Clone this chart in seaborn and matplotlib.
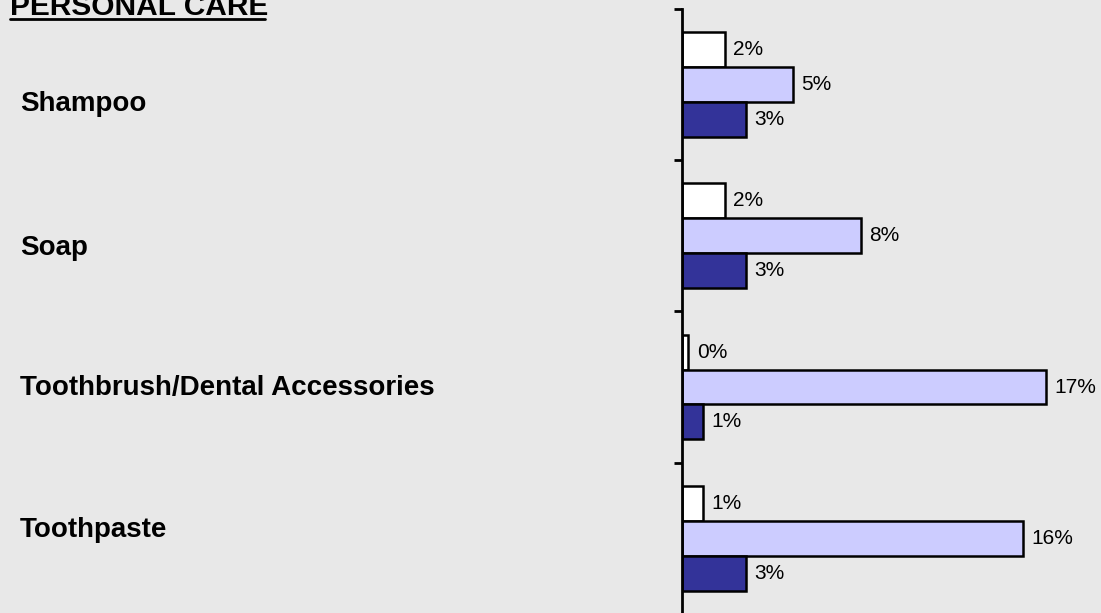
import matplotlib
matplotlib.use("Agg")
import matplotlib.pyplot as plt
import seaborn as sns
import pandas as pd

# ---- data ----
title = "PERSONAL CARE"
categories = ["Shampoo", "Soap", "Toothbrush/Dental Accessories", "Toothpaste"]
series_names = ["Series 1", "Series 2", "Series 3"]
series1 = [2.0, 2.0, 0.3, 1.0]
series2 = [5.2, 8.4, 17.05, 16.0]
series3 = [3.0, 3.0, 1.0, 3.0]
colors = ["#FFFFFF", "#CCCCFF", "#333399"]

rows = []
for name, vals in zip(series_names, [series1, series2, series3]):
    for c, v in zip(categories, vals):
        rows.append({"category": c, "series": name, "value": v})
df = pd.DataFrame(rows)

sns.set_style("white")
plt.rcParams["font.family"] = ["Liberation Sans", "DejaVu Sans"]
plt.rcParams["text.color"] = "black"

W, H = 1101, 613
bg = "#E8E8E8"
fig = plt.figure(figsize=(W / 100, H / 100), dpi=100, facecolor=bg)

ax_left = 682 / W
top_px, bot_px = 8.7, 614.0
ax = fig.add_axes([ax_left, 1 - bot_px / H, 1 - ax_left, (bot_px - top_px) / H])
ax.set_facecolor(bg)

sns.barplot(data=df, y="category", x="value", hue="series", order=categories,
            hue_order=series_names, palette=colors, orient="h", width=0.69,
            edgecolor="black", linewidth=1.8, ax=ax, legend=False, saturation=1)

for cont in ax.containers:
    ax.bar_label(cont, labels=[f"{v:.0f}%" for v in cont.datavalues],
                 padding=6, fontsize=15, color="black")

ax.set_xlim(0, (W - 682) / 21.33)
ax.set_ylim(len(categories) - 0.5, -0.5)

for s in ["top", "right", "bottom"]:
    ax.spines[s].set_visible(False)
ax.spines["left"].set_linewidth(2)
ax.spines["left"].set_color("black")
ax.set_xticks([])
ax.set_yticks([i - 0.5 for i in range(len(categories) + 1)])
ax.set_yticklabels([])
ax.tick_params(axis="y", length=6, width=2, color="black", left=True, direction="out")
ax.set_xlabel("")
ax.set_ylabel("")

# category labels on the left
label_baselines = [111, 255, 395, 537]
for c, yb in zip(categories, label_baselines):
    fig.text(20 / W, 1 - yb / H, c, fontsize=20, fontweight="bold",
             ha="left", va="baseline", color="black")

fig.text(10 / W, 1 - 15 / H, title, fontsize=21.5, fontweight="bold",
         ha="left", va="baseline", color="black")
fig.add_artist(plt.Line2D([10 / W, 265 / W], [1 - 18.5 / H, 1 - 18.5 / H],
                          color="black", linewidth=2, transform=fig.transFigure))

fig.savefig("out.png", dpi=100, facecolor=bg)
